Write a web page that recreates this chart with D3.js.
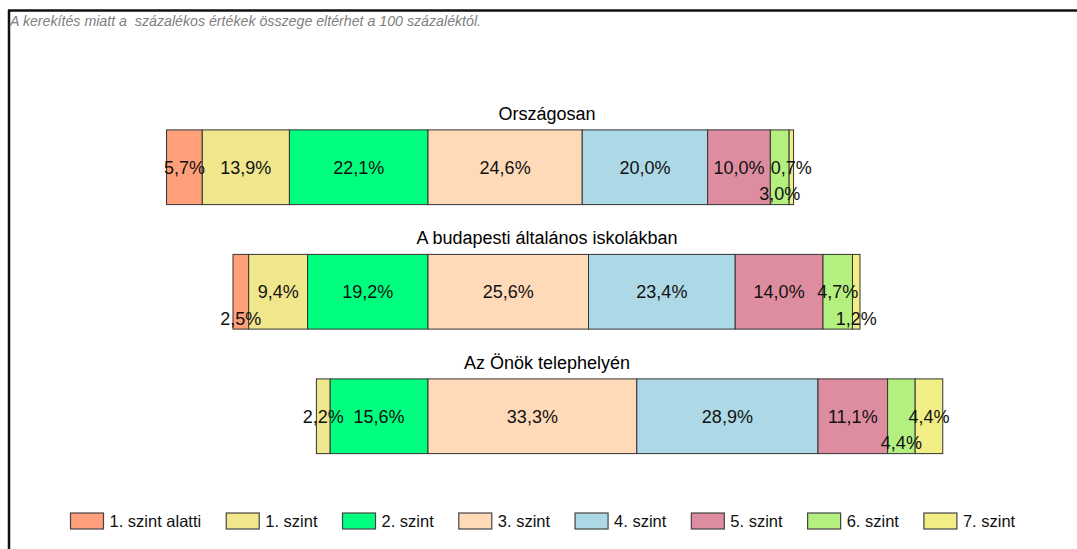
<!DOCTYPE html>
<html>
<head>
<meta charset="utf-8">
<script src="https://cdn.jsdelivr.net/npm/d3@7"></script>
<style>
  body { margin: 0; background: #fff; }
  text { font-family: "Liberation Sans", Arial, sans-serif; }
</style>
</head>
<body>
<svg width="1077" height="549"></svg>
<script>
// Data
const groups = ["Országosan", "A budapesti általános iskolákban", "Az Önök telephelyén"];
const levels = ["1. szint alatti", "1. szint", "2. szint", "3. szint", "4. szint", "5. szint", "6. szint", "7. szint"];
const orszagos = [5.7, 13.9, 22.1, 24.6, 20.0, 10.0, 3.0, 0.7];
const budapest = [2.5, 9.4, 19.2, 25.6, 23.4, 14.0, 4.7, 1.2];
const telephely = [0, 2.2, 15.6, 33.3, 28.9, 11.1, 4.4, 4.4];
const colors = ["#ffa07a", "#f0e68c", "#00ff7f", "#ffdab9", "#add8e6", "#dd8d9f", "#b4f080", "#f0ee84"];
const note = "A kerekítés miatt a  százalékos értékek összege eltérhet a 100 százaléktól.";
// labels pushed down to avoid overlaps
const lowLabels = ["Országosan|6. szint", "A budapesti általános iskolákban|1. szint alatti",
  "A budapesti általános iskolákban|7. szint", "Az Önök telephelyén|6. szint"];

const values = [orszagos, budapest, telephely];
const fmt = v => v.toFixed(1).replace(".", ",") + "%";

const svg = d3.select("svg");

// frame
svg.append("line").attr("x1", 8).attr("x2", 1077).attr("y1", 10.5).attr("y2", 10.5)
  .attr("stroke", "#111").attr("stroke-width", 2.5);
svg.append("line").attr("x1", 9).attr("x2", 9).attr("y1", 10).attr("y2", 549)
  .attr("stroke", "#111").attr("stroke-width", 2.5);

svg.append("text").attr("x", 10).attr("y", 26)
  .attr("font-size", 14.2).attr("font-style", "italic").attr("fill", "#808080")
  .attr("xml:space", "preserve")
  .text(note);

// scales: 0 = border between 2. and 3. szint
const x = d3.scaleLinear().domain([-50, 100]).range([114.5, 1055]);
const y = d3.scaleBand().domain(groups).range([105, 478.5]).paddingInner(0.4).paddingOuter(0.2);

groups.forEach((g, gi) => {
  const vals = values[gi];
  const leftSum = d3.sum(vals.slice(0, 3));
  let acc = -leftSum;
  const segs = vals.map((v, i) => {
    const s = { level: levels[i], v, x0: acc, x1: acc + v, color: colors[i] };
    acc += v;
    return s;
  });

  const gEl = svg.append("g");
  gEl.append("text")
    .attr("x", 547).attr("y", y(g) - 10)
    .attr("text-anchor", "middle").attr("font-size", 18).attr("fill", "#000")
    .text(g);

  const drawn = segs.filter(d => d.v > 0);
  gEl.selectAll("rect").data(drawn).enter().append("rect")
    .attr("x", d => x(d.x0))
    .attr("y", y(g))
    .attr("width", d => x(d.x1) - x(d.x0))
    .attr("height", y.bandwidth())
    .attr("fill", d => d.color)
    .attr("stroke", "#333").attr("stroke-width", 1);

  gEl.selectAll("text.lab").data(drawn).enter().append("text")
    .attr("class", "lab")
    .attr("x", d => (x(d.x0) + x(d.x1)) / 2)
    .attr("y", d => y(g) + y.bandwidth() / 2 + (lowLabels.includes(g + "|" + d.level) ? 33 : 6.5))
    .attr("text-anchor", "middle").attr("font-size", 18).attr("fill", "#111")
    .text(d => fmt(d.v));
});

// legend
let lx = 70.5;
levels.forEach((l, i) => {
  svg.append("rect").attr("x", lx).attr("y", 513).attr("width", 33).attr("height", 16)
    .attr("fill", colors[i]).attr("stroke", "#444").attr("stroke-width", 1.2);
  const t = svg.append("text").attr("x", lx + 39).attr("y", 527)
    .attr("font-size", 16.5).attr("fill", "#111").text(l);
  lx += 39 + t.node().getComputedTextLength() + 25;
});
</script>
</body>
</html>
